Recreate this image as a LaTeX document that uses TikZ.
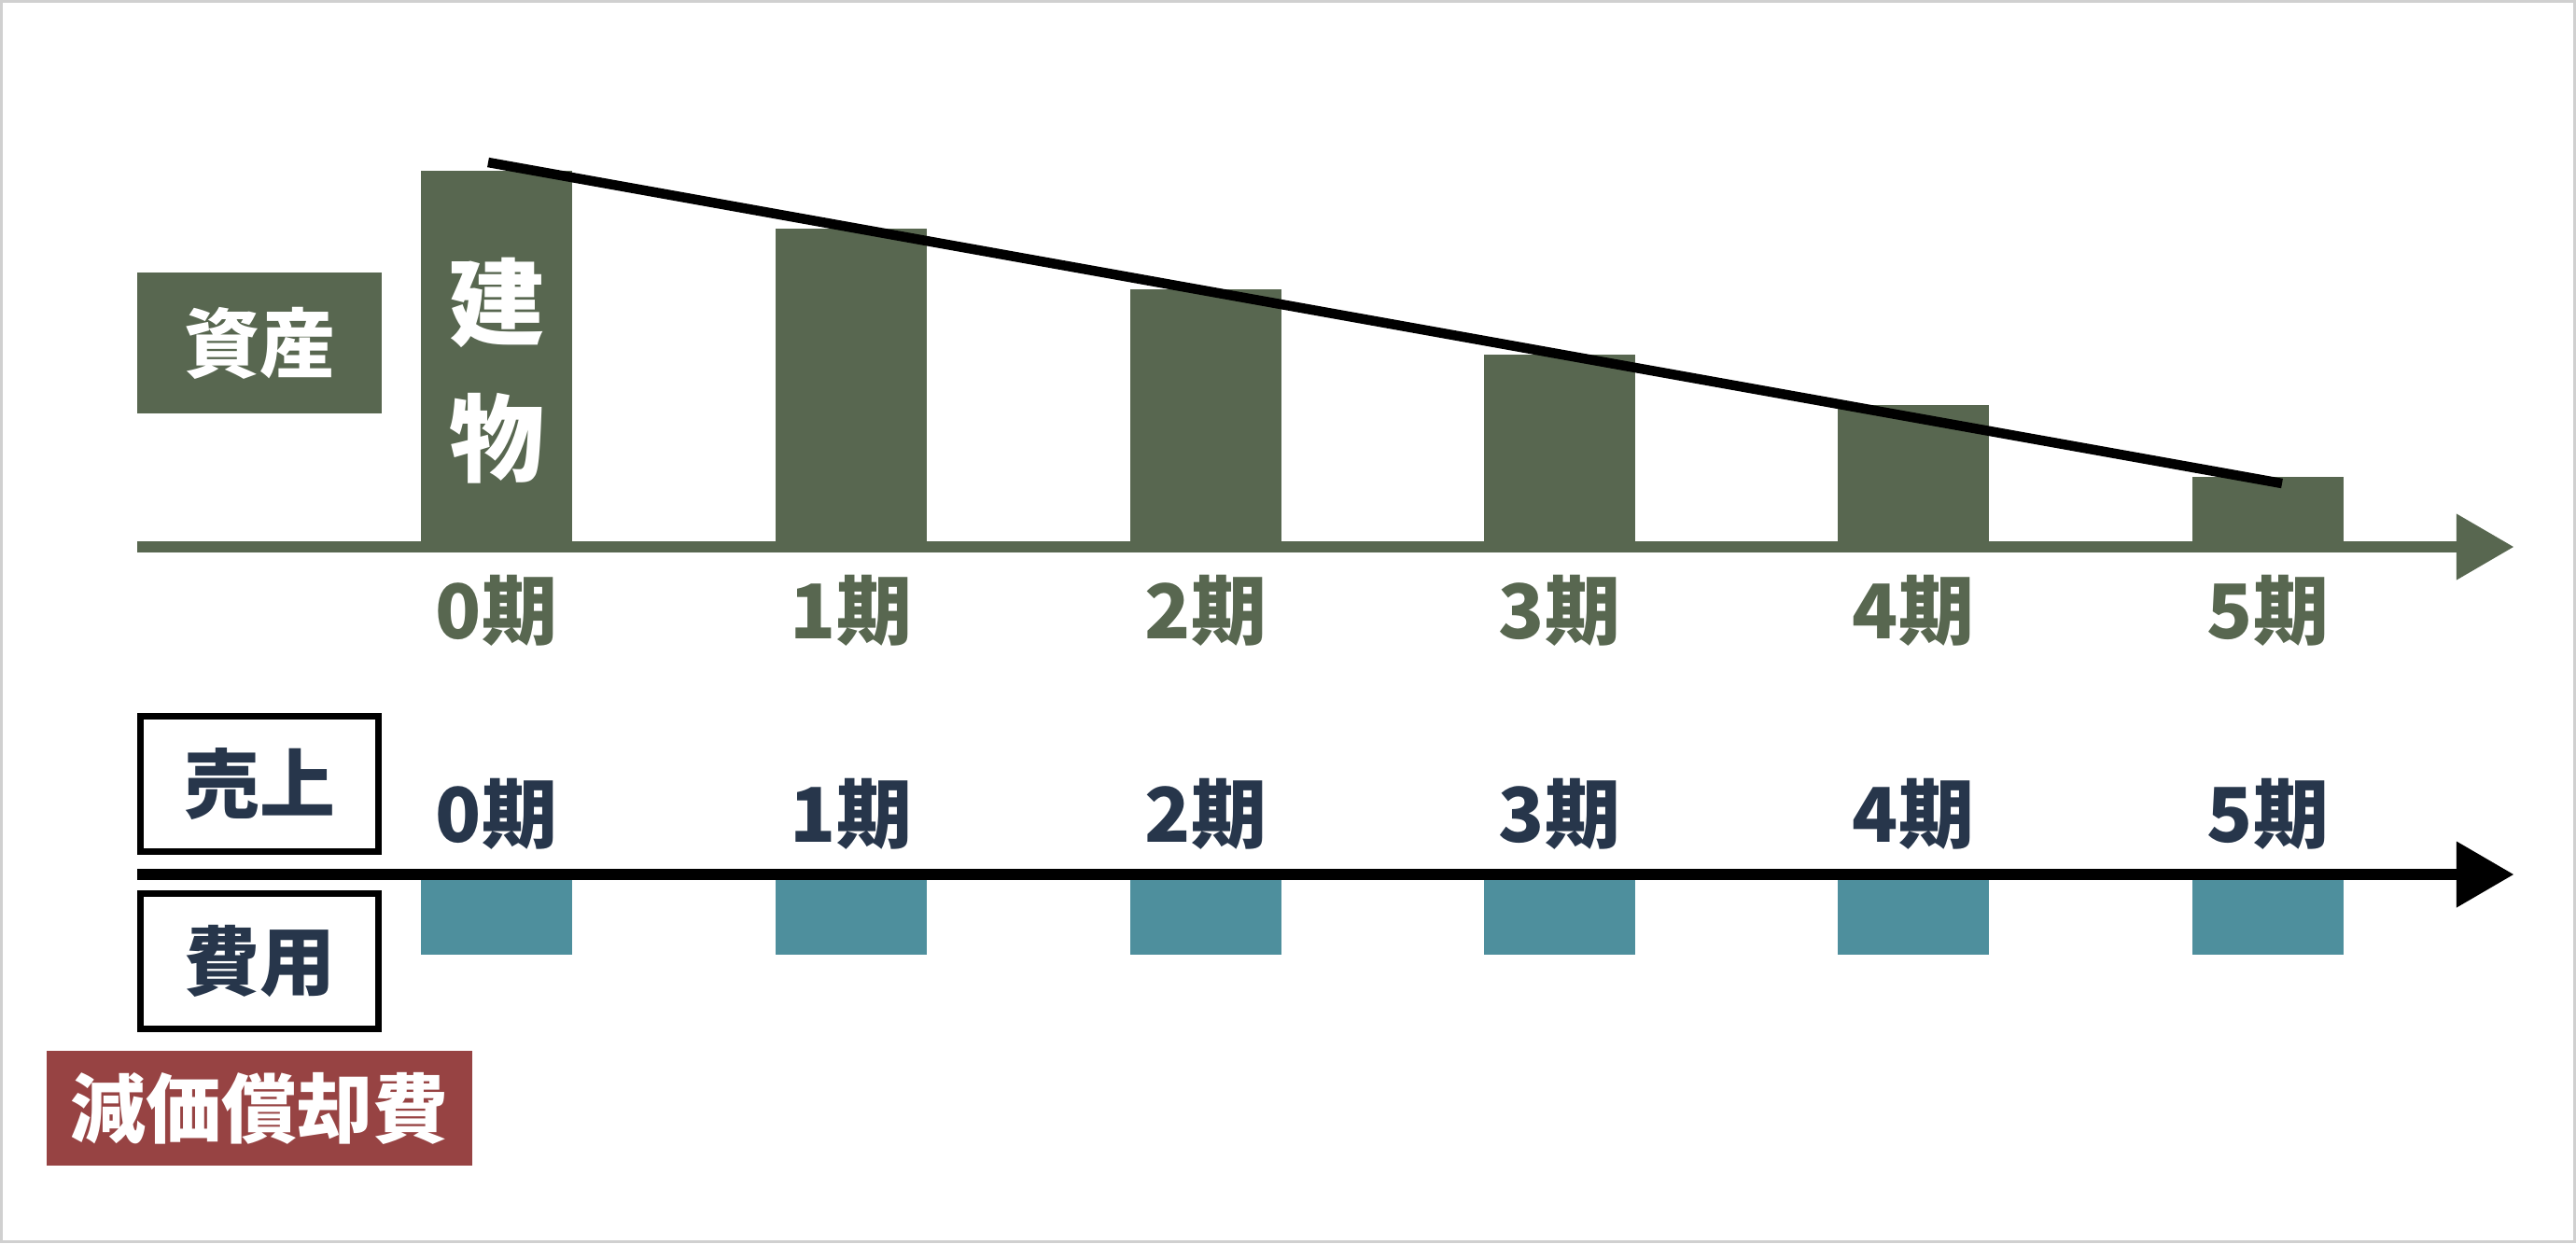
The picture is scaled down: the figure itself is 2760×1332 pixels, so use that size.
\documentclass[tikz,border=0pt]{standalone}
\usepackage{fontspec}
\setmainfont{Noto Sans CJK JP}
\usepackage{tikz}
\usetikzlibrary{positioning,arrows.meta}

\definecolor{assetgreen}{HTML}{586750}
\definecolor{costteal}{HTML}{4E8F9D}
\definecolor{deprred}{HTML}{974343}
\definecolor{labelnavy}{HTML}{27364B}
\definecolor{framegray}{HTML}{D0D0D0}

\begin{document}
\begin{tikzpicture}[
            x=0.01cm, y=-0.01cm,
            font=\bfseries\fontsize{23}{28}\selectfont,
            assetbar/.style={rectangle, fill=assetgreen, inner sep=0pt, minimum width=1.61cm, anchor=south},
            costbar/.style={rectangle, fill=costteal, inner sep=0pt, minimum width=1.61cm, minimum height=0.82cm, anchor=north},
            period/.style={inner sep=0pt},
            headbox/.style={rectangle, fill=assetgreen, text=white, minimum width=2.62cm, minimum height=1.51cm},
            plbox/.style={rectangle, draw=black, line width=0.07cm, fill=white, text=labelnavy, minimum width=2.55cm, minimum height=1.45cm},
            deprbox/.style={rectangle, fill=deprred, text=white, minimum width=4.55cm, minimum height=1.23cm},
            axis/.style={line width=0.125cm, -{Triangle[length=0.61cm, width=0.71cm, line width=0pt]}},
            trend/.style={line width=0.105cm, black}
        ]
        \useasboundingbox (0,0) rectangle (2760,1332);
        \draw[framegray, line width=0.03cm] (1.5,1.5) rectangle (2758.5,1330.5);

        % assets side
        \node[headbox] (asset) at (278,367.5) {資産};
        \node[assetbar, minimum height=4.02cm] (bar0) at (532,586) {};
        \node[assetbar, minimum height=3.40cm] (bar1) at (912,586) {};
        \node[assetbar, minimum height=2.75cm] (bar2) at (1292,586) {};
        \node[assetbar, minimum height=2.05cm] (bar3) at (1671,586) {};
        \node[assetbar, minimum height=1.51cm] (bar4) at (2050,586) {};
        \node[assetbar, minimum height=0.74cm] (bar5) at (2430,586) {};
        \node[text=white, align=center, font=\bfseries\fontsize{29}{41.7}\selectfont] (bldg) at (532,397) {建\\物};

        \coordinate (aL) at (147,586);
        \coordinate (aR) at (2693,586);
        \draw[axis, assetgreen] (aL) -- (aR);

        \node[period, text=assetgreen] (a0) at (532,654) {0期};
        \node[period, text=assetgreen] (a1) at (912,654) {1期};
        \node[period, text=assetgreen] (a2) at (1292,654) {2期};
        \node[period, text=assetgreen] (a3) at (1671,654) {3期};
        \node[period, text=assetgreen] (a4) at (2050,654) {4期};
        \node[period, text=assetgreen] (a5) at (2430,654) {5期};

        \coordinate (t0) at (523,174);
        \coordinate (t5) at (2445,518);
        \draw[trend] (t0) -- (t5);

        % income statement side
        \node[plbox] (sales) at (278,840) {売上};
        \node[plbox, below=0.38cm of sales] (cost) {費用};
        \node[deprbox, below=0.19cm of cost] (depr) {減価償却費};

        \node[costbar] (c0) at (532,940) {};
        \node[costbar] (c1) at (912,940) {};
        \node[costbar] (c2) at (1292,940) {};
        \node[costbar] (c3) at (1671,940) {};
        \node[costbar] (c4) at (2050,940) {};
        \node[costbar] (c5) at (2430,940) {};

        \coordinate (bL) at (147,937);
        \coordinate (bR) at (2693,937);
        \draw[axis, black] (bL) -- (bR);

        \node[period, text=labelnavy] (p0) at (532,872) {0期};
        \node[period, text=labelnavy] (p1) at (912,872) {1期};
        \node[period, text=labelnavy] (p2) at (1292,872) {2期};
        \node[period, text=labelnavy] (p3) at (1671,872) {3期};
        \node[period, text=labelnavy] (p4) at (2050,872) {4期};
        \node[period, text=labelnavy] (p5) at (2430,872) {5期};
\end{tikzpicture}
\end{document}
